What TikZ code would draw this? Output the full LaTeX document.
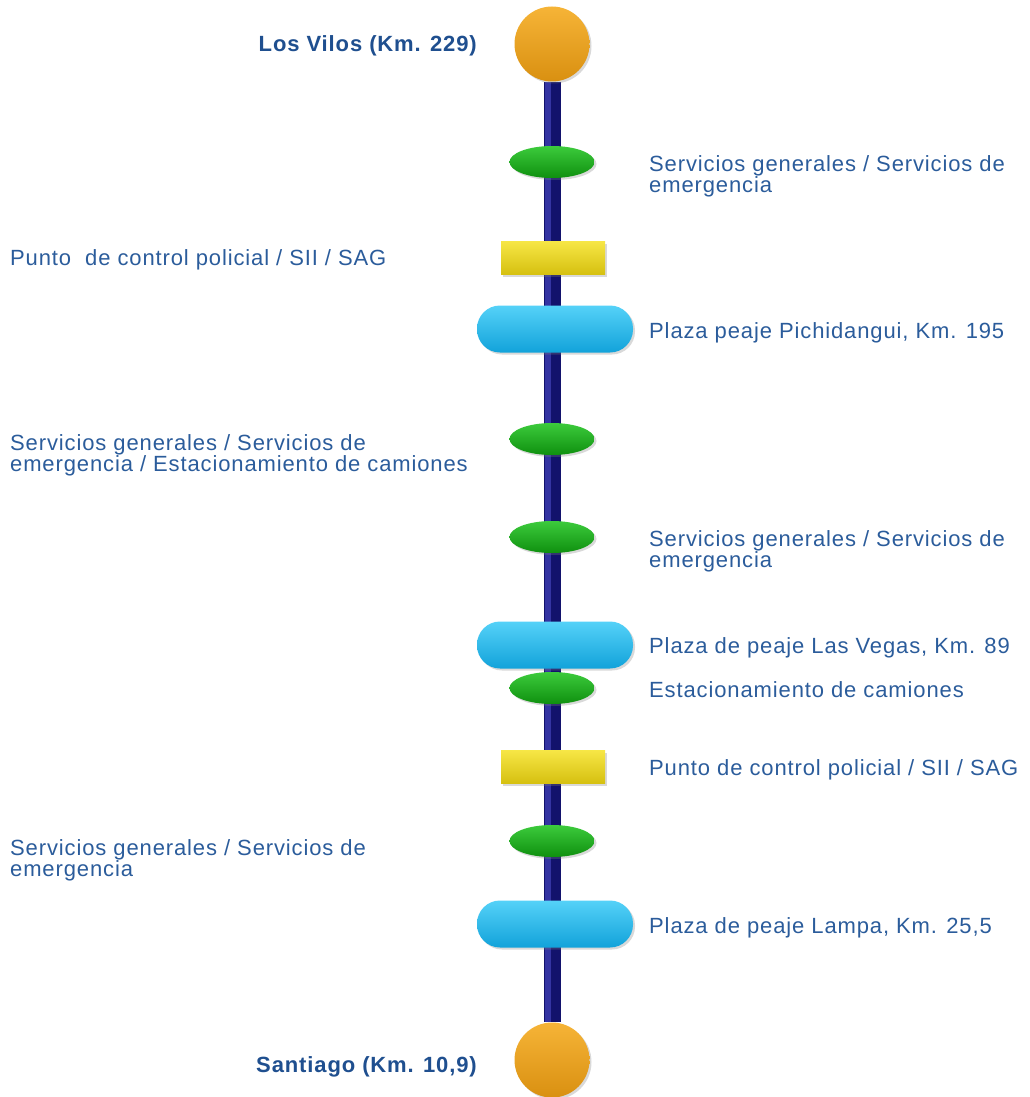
\documentclass[tikz,border=0pt]{standalone}
\usepackage{fontspec}
\setmainfont{Liberation Sans}[LetterSpace=4]
\usepackage{xcolor}
\usetikzlibrary{shapes.geometric, positioning, shadows, backgrounds}

\definecolor{roadnavy}{HTML}{12126C}
\definecolor{roadlight}{HTML}{3434A2}
\definecolor{textblue}{HTML}{2B5C9B}
\definecolor{cityblue}{HTML}{1F4F8F}
\definecolor{stoplight}{HTML}{F6B437}
\definecolor{stopmid}{HTML}{F1A81D}
\definecolor{stopdark}{HTML}{D99011}
\definecolor{servlight}{HTML}{3CCB3C}
\definecolor{servmid}{HTML}{1CB41C}
\definecolor{servdark}{HTML}{0F900F}
\definecolor{ctrllight}{HTML}{F6E645}
\definecolor{ctrlmid}{HTML}{F0DC1E}
\definecolor{ctrldark}{HTML}{D6C010}
\definecolor{tolllight}{HTML}{55D2F8}
\definecolor{tollmid}{HTML}{1FC0F0}
\definecolor{tolldark}{HTML}{12A2DA}

\begin{document}
\begin{tikzpicture}[x=1pt, y=-1pt]
        \tikzstyle{stop} = [circle, minimum size=75pt, inner sep=0pt, top color=stoplight, middle color=stopmid, bottom color=stopdark, drop shadow={shadow xshift=2pt, shadow yshift=-2pt, opacity=0.3}]
        \tikzstyle{service} = [ellipse, minimum width=85pt, minimum height=32pt, inner sep=0pt, top color=servlight, middle color=servmid, bottom color=servdark, drop shadow={shadow xshift=2pt, shadow yshift=-2pt, opacity=0.3}]
        \tikzstyle{control} = [rectangle, minimum width=104pt, minimum height=33pt, inner sep=0pt, top color=ctrllight, middle color=ctrlmid, bottom color=ctrldark, drop shadow={shadow xshift=2pt, shadow yshift=-2pt, opacity=0.3}]
        \tikzstyle{toll} = [rectangle, rounded corners=23pt, minimum width=156pt, minimum height=47pt, inner sep=0pt, top color=tolllight, middle color=tollmid, bottom color=tolldark, drop shadow={shadow xshift=2pt, shadow yshift=-2pt, opacity=0.3}]
        \tikzstyle{road} = [draw=roadnavy, line width=17pt]
        \tikzstyle{note} = [inner sep=0pt, text=textblue, align=left, font=\fontsize{22}{21}\selectfont]
        \tikzstyle{city} = [inner sep=0pt, text=cityblue, font=\fontsize{22}{21}\selectfont\bfseries]

        \useasboundingbox (0,0) rectangle (1029,1097);

        % stops along the road
        \node [stop] (vilos) at (552,44) {};
        \node [service] (serv1) at (552,162) {};
        \node [control] (ctrl1) at (553,258) {};
        \node [toll] (pichidangui) at (555,329) {};
        \node [service] (serv2) at (552,439) {};
        \node [service] (serv3) at (552,537) {};
        \node [toll] (lasvegas) at (555,645) {};
        \node [service] (trucks) at (552,688) {};
        \node [control] (ctrl2) at (553,767) {};
        \node [service] (serv4) at (552,841) {};
        \node [toll] (lampa) at (555,924) {};
        \node [stop] (santiago) at (552,1060) {};

        \begin{scope}[on background layer]
            \path [road] (vilos) -- (santiago);
            \path [road, draw=roadlight, line width=6pt, transform canvas={xshift=-4pt}] (vilos) -- (santiago);
        \end{scope}

        % labels (multi-line ones sit on their last baseline)
        \node [city, anchor=base east] (vilostext) at (477,52) {Los Vilos (Km. 229)};
        \node [city, anchor=base east] (santiagotext) at (477,1072) {Santiago (Km. 10,9)};

        \node [note, anchor=base west] (serv1text) at (649,192) {Servicios generales / Servicios de\\emergencia};
        \node [note, anchor=base west] (ctrl1text) at (10,265) {Punto~ de control policial / SII / SAG};
        \node [note, anchor=base west] (pichidanguitext) at (649,338) {Plaza peaje Pichidangui, Km. 195};
        \node [note, anchor=base west] (serv2text) at (10,471) {Servicios generales / Servicios de\\emergencia / Estacionamiento de camiones};
        \node [note, anchor=base west] (serv3text) at (649,567) {Servicios generales / Servicios de\\emergencia};
        \node [note, anchor=base west] (lasvegastext) at (649,653) {Plaza de peaje Las Vegas, Km. 89};
        \node [note, anchor=base west] (truckstext) at (649,697) {Estacionamiento de camiones};
        \node [note, anchor=base west] (ctrl2text) at (649,775) {Punto de control policial / SII / SAG};
        \node [note, anchor=base west] (serv4text) at (10,876) {Servicios generales / Servicios de\\emergencia};
        \node [note, anchor=base west] (lampatext) at (649,933) {Plaza de peaje Lampa, Km. 25,5};
    \end{tikzpicture}
\end{document}
